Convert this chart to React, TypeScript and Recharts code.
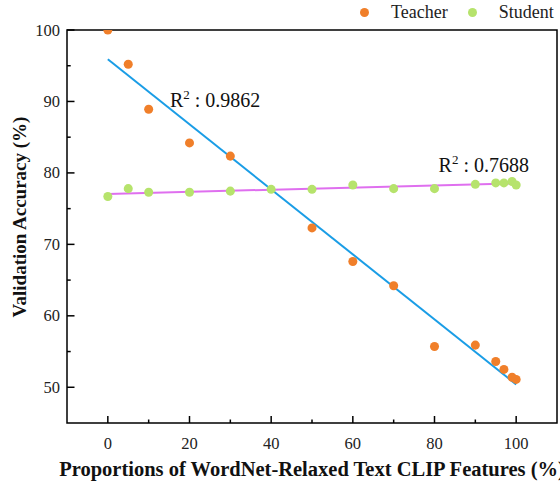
import React from 'react'
import {
  ComposedChart,
  Scatter,
  Line,
  XAxis,
  YAxis,
  ReferenceArea,
  ReferenceDot,
} from 'recharts'

// proportion (%) of WordNet-relaxed text CLIP features
const proportions = [0, 5, 10, 20, 30, 40, 50, 60, 70, 80, 90, 95, 97, 99, 100]
const teacherAcc = [100, 95.2, 88.9, 84.2, 82.35, null, 72.3, 67.6, 64.2, 55.7, 55.9, 53.6, 52.5, 51.4, 51.1]
const studentAcc = [76.7, 77.8, 77.3, 77.3, 77.45, 77.7, 77.7, 78.3, 77.8, 77.8, 78.4, 78.6, 78.6, 78.8, 78.3]

// fitted lines, endpoints
const fitX = [0, 100]
const teacherFitY = [95.9, 50.4]
const studentFitY = [77.05, 78.55]

const xTicks = [0, 10, 20, 30, 40, 50, 60, 70, 80, 90, 100]
const yTicks = [50, 55, 60, 65, 70, 75, 80, 85, 90, 95, 100]
const xDomain = [-10, 110]
const yDomain = [45, 100]
const seriesNames = ['Teacher', 'Student']

const teacher = proportions
  .map((x, i) => ({ x, y: teacherAcc[i] }))
  .filter((d) => d.y !== null)
const student = proportions.map((x, i) => ({ x, y: studentAcc[i] }))
const teacherFit = fitX.map((x, i) => ({ x, y: teacherFitY[i] }))
const studentFit = fitX.map((x, i) => ({ x, y: studentFitY[i] }))

const FONT = '"Liberation Serif", "Times New Roman", serif'
const ORANGE = '#F07F2A'
const GREEN = '#B6E36C'
const txt = { fontFamily: FONT }

const XTick = (props: any) => {
  const { x, y, payload } = props
  const v = payload.value
  const major = v % 20 === 0
  return (
    <g>
      <line x1={x} x2={x} y1={y} y2={y - (major ? 7 : 3.5)} stroke="#000" strokeWidth={1.5} />
      {major && (
        <text x={x} y={y + 26} textAnchor="middle" fontSize={16.5} style={txt} fill="#222">
          {v}
        </text>
      )}
    </g>
  )
}

const YTick = (props: any) => {
  const { x, y, payload } = props
  const v = payload.value
  const major = v % 10 === 0
  return (
    <g>
      <line x1={x} x2={x + (major ? 7.5 : 3.7)} y1={y} y2={y} stroke="#000" strokeWidth={1.5} />
      {major && (
        <text x={x - 7} y={y + 5.5} textAnchor="end" fontSize={16.5} style={txt} fill="#222">
          {v}
        </text>
      )}
    </g>
  )
}

const R2Label = (text: string) => (props: any) => {
  const { viewBox } = props
  const x = viewBox.x + (viewBox.width || 0) / 2
  const y = viewBox.y + (viewBox.height || 0) / 2
  return (
    <text x={x} y={y} fontSize={20} style={txt} fill="#111">
      R
      <tspan fontSize={13} dy={-8}>2</tspan>
      <tspan dy={8}>{' : ' + text}</tspan>
    </text>
  )
}

const dot = (color: string) => ({
  width: 9,
  height: 9,
  borderRadius: '50%',
  background: color,
  display: 'inline-block',
  marginRight: 22,
})

export default function App() {
  return (
    <div style={{ position: 'absolute', left: 0, top: 0, width: 560, height: 485, background: '#fff', overflow: 'hidden' }}>
      <div
        style={{
          position: 'absolute',
          top: 2,
          left: 360,
          display: 'flex',
          alignItems: 'center',
          fontFamily: FONT,
          fontSize: 18,
          color: '#222',
          whiteSpace: 'nowrap',
          zIndex: 2,
        }}
      >
        <span style={dot(ORANGE)} />
        <span style={{ marginRight: 20 }}>{seriesNames[0]}</span>
        <span style={dot(GREEN)} />
        <span>{seriesNames[1]}</span>
      </div>
      <ComposedChart width={560} height={485} margin={{ top: 30, right: 3, bottom: 22, left: 7 }}>
        <XAxis
          type="number"
          dataKey="x"
          domain={xDomain}
          ticks={xTicks}
          interval={0}
          allowDataOverflow
          height={40}
          axisLine={false}
          tickLine={false}
          tickSize={0}
          tickMargin={0}
          tick={XTick}
          label={{
            content: (p: any) => (
              <text
                x={p.viewBox.x + p.viewBox.width / 2}
                y={p.viewBox.y + 53}
                textAnchor="middle"
                fontSize={20.5}
                fontWeight="bold"
                style={txt}
                fill="#111"
              >
                Proportions of WordNet-Relaxed Text CLIP Features (%)
              </text>
            ),
          }}
        />
        <YAxis
          type="number"
          dataKey="y"
          domain={yDomain}
          ticks={yTicks}
          interval={0}
          allowDataOverflow
          width={60}
          axisLine={false}
          tickLine={false}
          tickSize={0}
          tickMargin={0}
          tick={YTick}
          label={{
            content: () => (
              <text
                x={26}
                y={217}
                transform="rotate(-90, 26, 217)"
                textAnchor="middle"
                fontSize={19}
                fontWeight="bold"
                style={txt}
                fill="#111"
              >
                Validation Accuracy (%)
              </text>
            ),
          }}
        />
        <Scatter name={seriesNames[0]} data={teacher} fill={ORANGE} shape="circle" isAnimationActive={false} />
        <Scatter name={seriesNames[1]} data={student} fill={GREEN} shape="circle" isAnimationActive={false} />
        <Line data={teacherFit} dataKey="y" stroke="#1A9DE6" strokeWidth={2} dot={false} activeDot={false} isAnimationActive={false} />
        <Line data={studentFit} dataKey="y" stroke="#DF6FEF" strokeWidth={2} dot={false} activeDot={false} isAnimationActive={false} />
        <ReferenceArea
          x1={xDomain[0]}
          x2={xDomain[1]}
          y1={yDomain[0]}
          y2={yDomain[1]}
          fill="none"
          stroke="#000"
          strokeWidth={1.5}
          ifOverflow="visible"
        />
        <ReferenceDot x={15.2} y={89.2} r={0} fill="none" stroke="none" label={{ content: R2Label('0.9862') }} />
        <ReferenceDot x={81} y={80.1} r={0} fill="none" stroke="none" label={{ content: R2Label('0.7688') }} />
      </ComposedChart>
    </div>
  )
}
